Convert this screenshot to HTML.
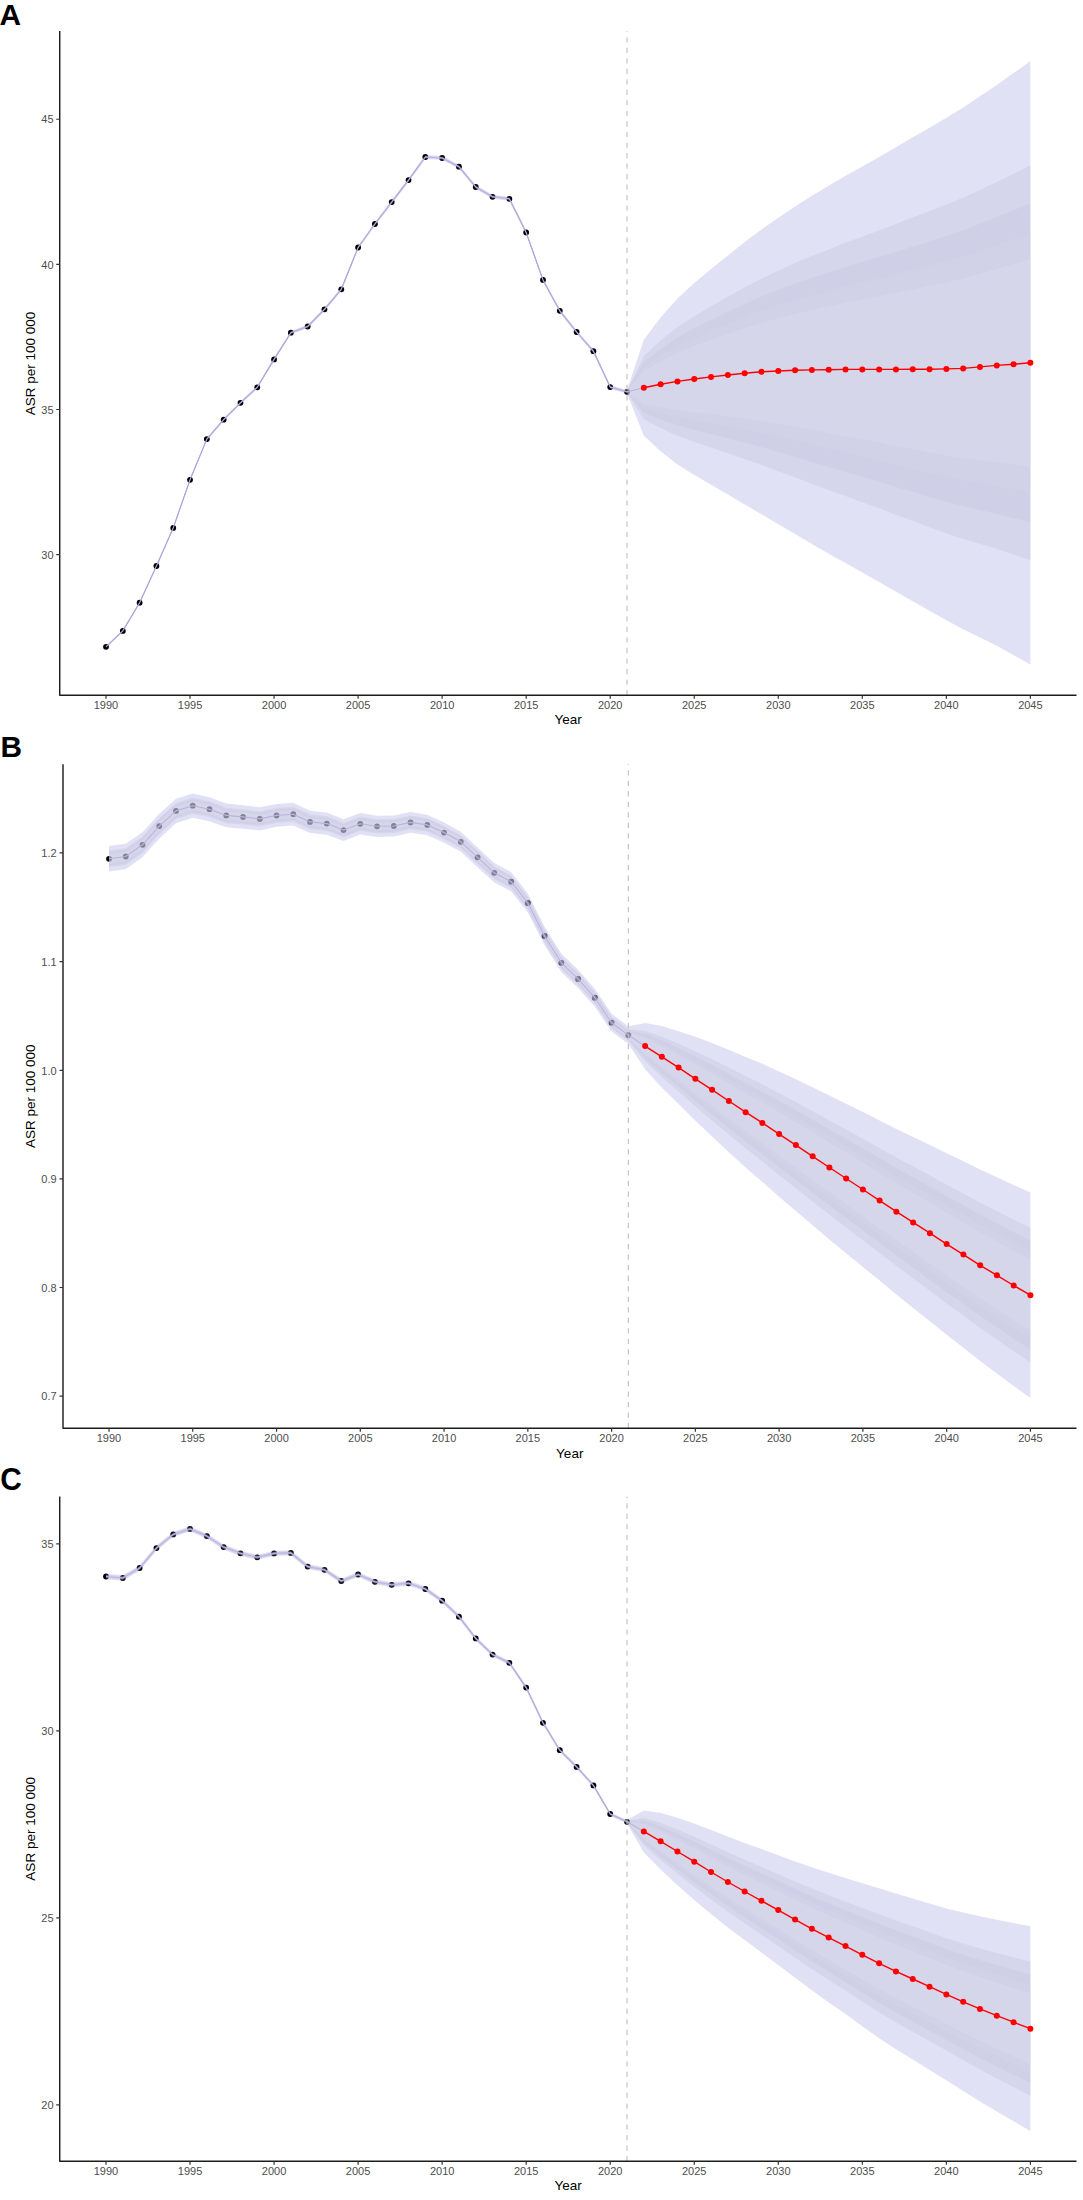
<!DOCTYPE html>
<html><head><meta charset="utf-8"><title>ASR forecast</title>
<style>
html,body{margin:0;padding:0;background:#fff}
svg{display:block}
text{font-family:"Liberation Sans",Arial,Helvetica,sans-serif}
.tk text{font-size:11px;fill:#4d4d4d}
.ti{font-size:13.5px;fill:#000}
.pl{font-size:29.8px;font-weight:700;fill:#000}
</style></head><body>
<svg width="1083" height="2200" viewBox="0 0 1083 2200">
<rect width="1083" height="2200" fill="#fff"/>
<g id="panel-A">
<g fill="#000"><circle cx="106" cy="646.8" r="2.9"/><circle cx="122.81" cy="630.9" r="2.9"/><circle cx="139.61" cy="602.7" r="2.9"/><circle cx="156.42" cy="566" r="2.9"/><circle cx="173.23" cy="527.9" r="2.9"/><circle cx="190.03" cy="479.8" r="2.9"/><circle cx="206.84" cy="439.1" r="2.9"/><circle cx="223.65" cy="419.7" r="2.9"/><circle cx="240.46" cy="402.8" r="2.9"/><circle cx="257.26" cy="387.3" r="2.9"/><circle cx="274.07" cy="359.4" r="2.9"/><circle cx="290.88" cy="332.7" r="2.9"/><circle cx="307.68" cy="326.5" r="2.9"/><circle cx="324.49" cy="309.3" r="2.9"/><circle cx="341.3" cy="289.3" r="2.9"/><circle cx="358.11" cy="247.5" r="2.9"/><circle cx="374.91" cy="224" r="2.9"/><circle cx="391.72" cy="202.1" r="2.9"/><circle cx="408.53" cy="180.1" r="2.9"/><circle cx="425.33" cy="157" r="2.9"/><circle cx="442.14" cy="158" r="2.9"/><circle cx="458.95" cy="166.7" r="2.9"/><circle cx="475.75" cy="187" r="2.9"/><circle cx="492.56" cy="196.8" r="2.9"/><circle cx="509.37" cy="198.8" r="2.9"/><circle cx="526.17" cy="232.5" r="2.9"/><circle cx="542.98" cy="279.9" r="2.9"/><circle cx="559.79" cy="310.8" r="2.9"/><circle cx="576.6" cy="332" r="2.9"/><circle cx="593.4" cy="351.2" r="2.9"/><circle cx="610.21" cy="387.1" r="2.9"/><circle cx="627.02" cy="391.8" r="2.9"/></g>
<path d="M106 646.8 L122.81 630.9 L139.61 602.7 L156.42 566 L173.23 527.9 L190.03 479.8 L206.84 439.1 L223.65 419.7 L240.46 402.8 L257.26 387.3 L274.07 359.4 L290.88 332.7 L307.68 326.5 L324.49 309.3 L341.3 289.3 L358.11 247.5 L374.91 224 L391.72 202.1 L408.53 180.1 L425.33 157 L442.14 158 L458.95 166.7 L475.75 187 L492.56 196.8 L509.37 198.8 L526.17 232.5 L542.98 279.9 L559.79 310.8 L576.6 332 L593.4 351.2 L610.21 387.1 L627.02 391.8 L643.82 387.7" fill="none" stroke="#ab96da" stroke-width="1.1" stroke-linejoin="round"/>
<path d="M106 645.8 L122.81 629.84 L139.61 601.58 L156.42 564.82 L173.23 526.66 L190.03 478.5 L206.84 437.74 L223.65 418.28 L240.46 401.32 L257.26 385.76 L274.07 357.8 L290.88 331.06 L307.68 324.81 L324.49 307.57 L341.3 287.52 L358.11 245.68 L374.91 222.13 L391.72 200.19 L408.53 178.14 L425.33 155 L442.14 156.02 L458.95 164.73 L475.75 185.05 L492.56 194.87 L509.37 196.88 L526.17 230.6 L542.98 278.02 L559.79 308.93 L576.6 330.15 L593.4 349.37 L610.21 385.28 L627.02 390 L643.82 339.75 L660.63 317.4 L677.44 298.4 L694.25 282.9 L711.05 269.1 L727.86 255.5 L744.67 242.06 L761.47 229.46 L778.28 217.84 L795.09 206.39 L811.89 195.81 L828.7 185.68 L845.51 175.76 L862.31 166.4 L879.12 156.9 L895.93 147.16 L912.74 137.27 L929.54 127.66 L946.35 117.66 L963.16 107.54 L979.96 96.29 L996.77 85 L1013.58 73.11 L1030.38 61.1 L1030.38 664.5 L1013.58 655.29 L996.77 645.8 L979.96 637.51 L963.16 629.26 L946.35 620.14 L929.54 610.74 L912.74 601.13 L895.93 591.64 L879.12 581.9 L862.31 572.4 L845.51 563.04 L828.7 553.72 L811.89 543.99 L795.09 534.01 L778.28 524.16 L761.47 514.14 L744.67 504.54 L727.86 494.5 L711.05 484.7 L694.25 475.1 L677.44 464.4 L660.63 451.2 L643.82 435.65 L627.02 393.6 L610.21 388.92 L593.4 353.03 L576.6 333.85 L559.79 312.67 L542.98 281.78 L526.17 234.4 L509.37 200.72 L492.56 198.73 L475.75 188.95 L458.95 168.67 L442.14 159.98 L425.33 159 L408.53 182.06 L391.72 204.01 L374.91 225.87 L358.11 249.32 L341.3 291.08 L324.49 311.03 L307.68 328.19 L290.88 334.34 L274.07 361 L257.26 388.84 L240.46 404.28 L223.65 421.12 L206.84 440.46 L190.03 481.1 L173.23 529.14 L156.42 567.18 L139.61 603.82 L122.81 631.96 L106 647.8Z" fill="rgba(105,105,205,0.2)"/>
<path d="M106 646.15 L122.81 630.21 L139.61 601.97 L156.42 565.23 L173.23 527.09 L190.03 478.95 L206.84 438.21 L223.65 418.77 L240.46 401.83 L257.26 386.29 L274.07 358.35 L290.88 331.62 L307.68 325.4 L324.49 308.17 L341.3 288.14 L358.11 246.31 L374.91 222.78 L391.72 200.85 L408.53 178.82 L425.33 155.69 L442.14 156.7 L458.95 165.41 L475.75 185.72 L492.56 195.54 L509.37 197.55 L526.17 231.26 L542.98 278.67 L559.79 309.58 L576.6 330.79 L593.4 350 L610.21 385.91 L627.02 390.62 L643.82 356.35 L660.63 340.56 L677.44 327.13 L694.25 316.16 L711.05 306.41 L727.86 296.86 L744.67 287.49 L761.47 278.73 L778.28 270.86 L795.09 263.09 L811.89 256.07 L828.7 249.38 L845.51 242.78 L862.31 236.67 L879.12 230.45 L895.93 224.09 L912.74 217.55 L929.54 211.26 L946.35 204.62 L963.16 197.83 L979.96 189.96 L996.77 182.05 L1013.58 173.87 L1030.38 165.53 L1030.38 560.07 L1013.58 554.53 L996.77 548.75 L979.96 543.84 L963.16 538.97 L946.35 533.18 L929.54 527.14 L912.74 520.85 L895.93 514.71 L879.12 508.35 L862.31 502.13 L845.51 496.02 L828.7 490.02 L811.89 483.73 L795.09 477.31 L778.28 471.14 L761.47 464.87 L744.67 459.11 L727.86 453.14 L711.05 447.39 L694.25 441.84 L677.44 435.67 L660.63 428.04 L643.82 419.05 L627.02 392.98 L610.21 388.29 L593.4 352.4 L576.6 333.21 L559.79 312.02 L542.98 281.13 L526.17 233.74 L509.37 200.05 L492.56 198.06 L475.75 188.28 L458.95 167.99 L442.14 159.3 L425.33 158.31 L408.53 181.38 L391.72 203.35 L374.91 225.22 L358.11 248.69 L341.3 290.46 L324.49 310.43 L307.68 327.6 L290.88 333.78 L274.07 360.45 L257.26 388.31 L240.46 403.77 L223.65 420.63 L206.84 439.99 L190.03 480.65 L173.23 528.71 L156.42 566.77 L139.61 603.43 L122.81 631.59 L106 647.45Z" fill="rgba(165,165,200,0.2)"/>
<path d="M106 646.27 L122.81 630.34 L139.61 602.11 L156.42 565.38 L173.23 527.24 L190.03 479.11 L206.84 438.38 L223.65 418.95 L240.46 402.02 L257.26 386.49 L274.07 358.55 L290.88 331.83 L307.68 325.61 L324.49 308.38 L341.3 288.36 L358.11 246.54 L374.91 223.01 L391.72 201.09 L408.53 179.07 L425.33 155.94 L442.14 156.95 L458.95 165.66 L475.75 185.97 L492.56 195.78 L509.37 197.79 L526.17 231.5 L542.98 278.9 L559.79 309.81 L576.6 331.02 L593.4 350.23 L610.21 386.14 L627.02 390.85 L643.82 362.34 L660.63 348.92 L677.44 337.51 L694.25 328.18 L711.05 319.9 L727.86 311.81 L744.67 303.9 L761.47 296.53 L778.28 290.01 L795.09 283.58 L811.89 277.84 L828.7 272.39 L845.51 267 L862.31 262.06 L879.12 257.03 L895.93 251.88 L912.74 246.55 L929.54 241.47 L946.35 236.04 L963.16 230.45 L979.96 223.8 L996.77 217.12 L1013.58 210.27 L1030.38 203.26 L1030.38 522.34 L1013.58 518.13 L996.77 513.68 L979.96 510 L963.16 506.35 L946.35 501.76 L929.54 496.93 L912.74 491.85 L895.93 486.92 L879.12 481.77 L862.31 476.74 L845.51 471.8 L828.7 467.01 L811.89 461.96 L795.09 456.82 L778.28 451.99 L761.47 447.07 L744.67 442.7 L727.86 438.19 L711.05 433.9 L694.25 429.82 L677.44 425.29 L660.63 419.68 L643.82 413.06 L627.02 392.75 L610.21 388.06 L593.4 352.17 L576.6 332.98 L559.79 311.79 L542.98 280.9 L526.17 233.5 L509.37 199.81 L492.56 197.82 L475.75 188.03 L458.95 167.74 L442.14 159.05 L425.33 158.06 L408.53 181.13 L391.72 203.11 L374.91 224.99 L358.11 248.46 L341.3 290.24 L324.49 310.22 L307.68 327.39 L290.88 333.57 L274.07 360.25 L257.26 388.11 L240.46 403.58 L223.65 420.45 L206.84 439.82 L190.03 480.49 L173.23 528.56 L156.42 566.62 L139.61 603.29 L122.81 631.46 L106 647.33Z" fill="rgba(183,183,221,0.2)"/>
<path d="M106 646.37 L122.81 630.44 L139.61 602.22 L156.42 565.49 L173.23 527.37 L190.03 479.24 L206.84 438.52 L223.65 419.09 L240.46 402.16 L257.26 386.64 L274.07 358.71 L290.88 331.99 L307.68 325.77 L324.49 308.56 L341.3 288.54 L358.11 246.72 L374.91 223.2 L391.72 201.28 L408.53 179.26 L425.33 156.14 L442.14 157.15 L458.95 165.86 L475.75 186.16 L492.56 195.97 L509.37 197.98 L526.17 231.68 L542.98 279.09 L559.79 310 L576.6 331.21 L593.4 350.41 L610.21 386.32 L627.02 391.03 L643.82 367.11 L660.63 355.57 L677.44 345.76 L694.25 337.73 L711.05 330.61 L727.86 323.69 L744.67 316.94 L761.47 310.68 L778.28 305.23 L795.09 299.86 L811.89 295.14 L828.7 290.68 L845.51 286.25 L862.31 282.23 L879.12 278.15 L895.93 273.97 L912.74 269.61 L929.54 265.48 L946.35 261.02 L963.16 256.38 L979.96 250.7 L996.77 244.99 L1013.58 239.2 L1030.38 233.25 L1030.38 492.35 L1013.58 489.2 L996.77 485.81 L979.96 483.1 L963.16 480.42 L946.35 476.78 L929.54 472.92 L912.74 468.79 L895.93 464.83 L879.12 460.65 L862.31 456.57 L845.51 452.55 L828.7 448.72 L811.89 444.66 L795.09 440.54 L778.28 436.77 L761.47 432.92 L744.67 429.66 L727.86 426.31 L711.05 423.19 L694.25 420.27 L677.44 417.04 L660.63 413.03 L643.82 408.29 L627.02 392.57 L610.21 387.88 L593.4 351.99 L576.6 332.79 L559.79 311.6 L542.98 280.71 L526.17 233.32 L509.37 199.62 L492.56 197.63 L475.75 187.84 L458.95 167.54 L442.14 158.85 L425.33 157.86 L408.53 180.94 L391.72 202.92 L374.91 224.8 L358.11 248.28 L341.3 290.06 L324.49 310.04 L307.68 327.23 L290.88 333.41 L274.07 360.09 L257.26 387.96 L240.46 403.44 L223.65 420.31 L206.84 439.68 L190.03 480.36 L173.23 528.43 L156.42 566.51 L139.61 603.18 L122.81 631.36 L106 647.23Z" fill="rgba(222,222,233,0.2)"/>
<path d="M106 646.46 L122.81 630.54 L139.61 602.31 L156.42 565.59 L173.23 527.47 L190.03 479.35 L206.84 438.63 L223.65 419.21 L240.46 402.29 L257.26 386.77 L274.07 358.85 L290.88 332.13 L307.68 325.92 L324.49 308.7 L341.3 288.69 L358.11 246.87 L374.91 223.36 L391.72 201.44 L408.53 179.43 L425.33 156.31 L442.14 157.32 L458.95 166.02 L475.75 186.33 L492.56 196.13 L509.37 198.14 L526.17 231.85 L542.98 279.25 L559.79 310.16 L576.6 331.36 L593.4 350.57 L610.21 386.47 L627.02 391.18 L643.82 371.2 L660.63 361.28 L677.44 352.84 L694.25 345.93 L711.05 339.8 L727.86 333.88 L744.67 328.14 L761.47 322.82 L778.28 318.29 L795.09 313.83 L811.89 309.99 L828.7 306.37 L845.51 302.76 L862.31 299.54 L879.12 296.27 L895.93 292.92 L912.74 289.38 L929.54 286.08 L946.35 282.44 L963.16 278.63 L979.96 273.77 L996.77 268.9 L1013.58 264.03 L1030.38 258.97 L1030.38 466.63 L1013.58 464.37 L996.77 461.9 L979.96 460.03 L963.16 458.17 L946.35 455.36 L929.54 452.32 L912.74 449.02 L895.93 445.88 L879.12 442.53 L862.31 439.26 L845.51 436.04 L828.7 433.03 L811.89 429.81 L795.09 426.57 L778.28 423.71 L761.47 420.78 L744.67 418.46 L727.86 416.12 L711.05 414 L694.25 412.07 L677.44 409.96 L660.63 407.32 L643.82 404.2 L627.02 392.42 L610.21 387.73 L593.4 351.83 L576.6 332.64 L559.79 311.44 L542.98 280.55 L526.17 233.15 L509.37 199.46 L492.56 197.47 L475.75 187.67 L458.95 167.38 L442.14 158.68 L425.33 157.69 L408.53 180.77 L391.72 202.76 L374.91 224.64 L358.11 248.13 L341.3 289.91 L324.49 309.9 L307.68 327.08 L290.88 333.27 L274.07 359.95 L257.26 387.83 L240.46 403.31 L223.65 420.19 L206.84 439.57 L190.03 480.25 L173.23 528.33 L156.42 566.41 L139.61 603.09 L122.81 631.26 L106 647.14Z" fill="rgba(235,235,248,0.2)"/>
<line x1="627.02" x2="627.02" y1="695.25" y2="31" stroke="#bebebe" stroke-width="1.1" stroke-dasharray="5.265 5.265" stroke-dashoffset="0"/>
<path d="M643.82 387.7 L660.63 384.3 L677.44 381.4 L694.25 379 L711.05 376.9 L727.86 375 L744.67 373.3 L761.47 371.8 L778.28 371 L795.09 370.2 L811.89 369.9 L828.7 369.7 L845.51 369.4 L862.31 369.4 L879.12 369.4 L895.93 369.4 L912.74 369.2 L929.54 369.2 L946.35 368.9 L963.16 368.4 L979.96 366.9 L996.77 365.4 L1013.58 364.2 L1030.38 362.8" fill="none" stroke="#f00" stroke-width="1.4" stroke-linejoin="round"/>
<g fill="#f00"><circle cx="643.82" cy="387.7" r="3"/><circle cx="660.63" cy="384.3" r="3"/><circle cx="677.44" cy="381.4" r="3"/><circle cx="694.25" cy="379" r="3"/><circle cx="711.05" cy="376.9" r="3"/><circle cx="727.86" cy="375" r="3"/><circle cx="744.67" cy="373.3" r="3"/><circle cx="761.47" cy="371.8" r="3"/><circle cx="778.28" cy="371" r="3"/><circle cx="795.09" cy="370.2" r="3"/><circle cx="811.89" cy="369.9" r="3"/><circle cx="828.7" cy="369.7" r="3"/><circle cx="845.51" cy="369.4" r="3"/><circle cx="862.31" cy="369.4" r="3"/><circle cx="879.12" cy="369.4" r="3"/><circle cx="895.93" cy="369.4" r="3"/><circle cx="912.74" cy="369.2" r="3"/><circle cx="929.54" cy="369.2" r="3"/><circle cx="946.35" cy="368.9" r="3"/><circle cx="963.16" cy="368.4" r="3"/><circle cx="979.96" cy="366.9" r="3"/><circle cx="996.77" cy="365.4" r="3"/><circle cx="1013.58" cy="364.2" r="3"/><circle cx="1030.38" cy="362.8" r="3"/></g>
<path d="M59.72 31 V695.25 H1076.5" fill="none" stroke="#1c1c1c" stroke-width="1.42" stroke-linejoin="round" stroke-linecap="butt"/>
<path d="M59.72 119.25 h-3.5 M59.72 264.35 h-3.5 M59.72 409.5 h-3.5 M59.72 554.65 h-3.5 M106 695.25 v3.4 M190.03 695.25 v3.4 M274.07 695.25 v3.4 M358.11 695.25 v3.4 M442.14 695.25 v3.4 M526.17 695.25 v3.4 M610.21 695.25 v3.4 M694.25 695.25 v3.4 M778.28 695.25 v3.4 M862.31 695.25 v3.4 M946.35 695.25 v3.4 M1030.38 695.25 v3.4" stroke="#333" stroke-width="1.2" fill="none"/>
<g class="tk" text-anchor="end"><text x="53.52" y="123.45">45</text><text x="53.52" y="268.55">40</text><text x="53.52" y="413.7">35</text><text x="53.52" y="558.85">30</text></g>
<g class="tk" text-anchor="middle"><text x="106" y="709.05">1990</text><text x="190.03" y="709.05">1995</text><text x="274.07" y="709.05">2000</text><text x="358.11" y="709.05">2005</text><text x="442.14" y="709.05">2010</text><text x="526.17" y="709.05">2015</text><text x="610.21" y="709.05">2020</text><text x="694.25" y="709.05">2025</text><text x="778.28" y="709.05">2030</text><text x="862.31" y="709.05">2035</text><text x="946.35" y="709.05">2040</text><text x="1030.38" y="709.05">2045</text></g>
<text class="ti" text-anchor="middle" x="568.11" y="724.2">Year</text>
<text class="ti" text-anchor="middle" transform="translate(35.1 363.5) rotate(-90)">ASR per 100 000</text>
<text class="pl" transform="translate(-0.4 24.7) scale(1 1)">A</text>
</g>
<g id="panel-B">
<g fill="#000"><circle cx="109" cy="858.8" r="2.9"/><circle cx="125.75" cy="856.5" r="2.9"/><circle cx="142.51" cy="844.8" r="2.9"/><circle cx="159.26" cy="826.1" r="2.9"/><circle cx="176.01" cy="810.9" r="2.9"/><circle cx="192.76" cy="805.7" r="2.9"/><circle cx="209.52" cy="809.2" r="2.9"/><circle cx="226.27" cy="815.4" r="2.9"/><circle cx="243.02" cy="816.9" r="2.9"/><circle cx="259.78" cy="818.9" r="2.9"/><circle cx="276.53" cy="815.4" r="2.9"/><circle cx="293.28" cy="814.2" r="2.9"/><circle cx="310.04" cy="821.9" r="2.9"/><circle cx="326.79" cy="823.6" r="2.9"/><circle cx="343.54" cy="830.1" r="2.9"/><circle cx="360.3" cy="823.8" r="2.9"/><circle cx="377.05" cy="826.3" r="2.9"/><circle cx="393.8" cy="826" r="2.9"/><circle cx="410.55" cy="822.4" r="2.9"/><circle cx="427.31" cy="824.9" r="2.9"/><circle cx="444.06" cy="832.6" r="2.9"/><circle cx="460.81" cy="841.8" r="2.9"/><circle cx="477.57" cy="857.3" r="2.9"/><circle cx="494.32" cy="872.8" r="2.9"/><circle cx="511.07" cy="881.7" r="2.9"/><circle cx="527.83" cy="903" r="2.9"/><circle cx="544.58" cy="936" r="2.9"/><circle cx="561.33" cy="962.8" r="2.9"/><circle cx="578.08" cy="978.9" r="2.9"/><circle cx="594.84" cy="997.7" r="2.9"/><circle cx="611.59" cy="1022.7" r="2.9"/><circle cx="628.34" cy="1035.1" r="2.9"/></g>
<path d="M109 858.8 L125.75 856.5 L142.51 844.8 L159.26 826.1 L176.01 810.9 L192.76 805.7 L209.52 809.2 L226.27 815.4 L243.02 816.9 L259.78 818.9 L276.53 815.4 L293.28 814.2 L310.04 821.9 L326.79 823.6 L343.54 830.1 L360.3 823.8 L377.05 826.3 L393.8 826 L410.55 822.4 L427.31 824.9 L444.06 832.6 L460.81 841.8 L477.57 857.3 L494.32 872.8 L511.07 881.7 L527.83 903 L544.58 936 L561.33 962.8 L578.08 978.9 L594.84 997.7 L611.59 1022.7 L628.34 1035.1 L645.1 1046.1" fill="none" stroke="#ab96da" stroke-width="1.1" stroke-linejoin="round"/>
<path d="M109 846 L125.75 843.83 L142.51 832.27 L159.26 813.7 L176.01 798.63 L192.76 793.57 L209.52 797.2 L226.27 803.53 L243.02 805.17 L259.78 807.3 L276.53 803.93 L293.28 802.87 L310.04 810.7 L326.79 812.53 L343.54 819.17 L360.3 813 L377.05 815.63 L393.8 815.47 L410.55 812 L427.31 814.63 L444.06 822.47 L460.81 831.8 L477.57 847.43 L494.32 863.07 L511.07 872.1 L527.83 893.51 L544.58 926.63 L561.33 953.54 L578.08 969.76 L594.84 988.67 L611.59 1013.79 L628.34 1026.3 L645.1 1022.9 L661.85 1025.97 L678.6 1031.2 L695.36 1036.86 L712.11 1042.99 L728.86 1049.8 L745.61 1056.93 L762.37 1063.85 L779.12 1071.5 L795.87 1079.21 L812.63 1087.28 L829.38 1095.5 L846.13 1103.73 L862.88 1112.06 L879.64 1120.6 L896.39 1128.9 L913.14 1136.88 L929.9 1145.03 L946.65 1153.35 L963.4 1161.33 L980.16 1169.57 L996.91 1177.16 L1013.66 1185.01 L1030.41 1192.4 L1030.41 1398 L1013.66 1385.99 L996.91 1373.44 L980.16 1361.03 L963.4 1347.87 L946.65 1334.85 L929.9 1321.37 L913.14 1307.92 L896.39 1294.5 L879.64 1280.6 L862.88 1266.94 L846.13 1253.27 L829.38 1239.5 L812.63 1225.32 L795.87 1210.99 L779.12 1196.7 L762.37 1181.95 L745.61 1167.47 L728.86 1152.2 L712.11 1136.61 L695.36 1120.74 L678.6 1104 L661.85 1087.63 L645.1 1069.3 L628.34 1043.9 L611.59 1031.61 L594.84 1006.73 L578.08 988.04 L561.33 972.06 L544.58 945.37 L527.83 912.49 L511.07 891.3 L494.32 882.53 L477.57 867.17 L460.81 851.8 L444.06 842.73 L427.31 835.17 L410.55 832.8 L393.8 836.53 L377.05 836.97 L360.3 834.6 L343.54 841.03 L326.79 834.67 L310.04 833.1 L293.28 825.53 L276.53 826.87 L259.78 830.5 L243.02 828.63 L226.27 827.27 L209.52 821.2 L192.76 817.83 L176.01 823.17 L159.26 838.5 L142.51 857.33 L125.75 869.17 L109 871.6Z" fill="rgba(105,105,205,0.2)"/>
<path d="M109 850.43 L125.75 848.22 L142.51 836.6 L159.26 817.99 L176.01 802.88 L192.76 797.77 L209.52 801.35 L226.27 807.64 L243.02 809.23 L259.78 811.32 L276.53 807.9 L293.28 806.79 L310.04 814.58 L326.79 816.36 L343.54 822.95 L360.3 816.74 L377.05 819.33 L393.8 819.11 L410.55 815.6 L427.31 818.19 L444.06 825.97 L460.81 835.26 L477.57 850.85 L494.32 866.44 L511.07 875.42 L527.83 896.8 L544.58 929.87 L561.33 956.75 L578.08 972.92 L594.84 991.8 L611.59 1016.87 L628.34 1029.35 L645.1 1030.93 L661.85 1036.64 L678.6 1043.8 L695.36 1051.38 L712.11 1059.2 L728.86 1067.52 L745.61 1076.06 L762.37 1084.29 L779.12 1093.17 L795.87 1102.02 L812.63 1111.17 L829.38 1120.42 L846.13 1129.61 L862.88 1138.87 L879.64 1148.29 L896.39 1157.56 L913.14 1166.48 L929.9 1175.55 L946.65 1184.76 L963.4 1193.61 L980.16 1202.7 L996.91 1211.13 L1013.66 1219.79 L1030.41 1227.98 L1030.41 1362.42 L1013.66 1351.21 L996.91 1339.47 L980.16 1327.9 L963.4 1315.59 L946.65 1303.44 L929.9 1290.85 L913.14 1278.32 L896.39 1265.84 L879.64 1252.91 L862.88 1240.13 L846.13 1227.39 L829.38 1214.58 L812.63 1201.43 L795.87 1188.18 L779.12 1175.03 L762.37 1161.51 L745.61 1148.34 L728.86 1134.48 L712.11 1120.4 L695.36 1106.22 L678.6 1091.4 L661.85 1076.96 L645.1 1061.27 L628.34 1040.85 L611.59 1028.53 L594.84 1003.6 L578.08 984.88 L561.33 968.85 L544.58 942.13 L527.83 909.2 L511.07 887.98 L494.32 879.16 L477.57 863.75 L460.81 848.34 L444.06 839.23 L427.31 831.61 L410.55 829.2 L393.8 832.89 L377.05 833.27 L360.3 830.86 L343.54 837.25 L326.79 830.84 L310.04 829.22 L293.28 821.61 L276.53 822.9 L259.78 826.48 L243.02 824.57 L226.27 823.16 L209.52 817.05 L192.76 813.63 L176.01 818.92 L159.26 834.21 L142.51 853 L125.75 864.78 L109 867.17Z" fill="rgba(165,165,200,0.2)"/>
<path d="M109 852.03 L125.75 849.8 L142.51 838.17 L159.26 819.54 L176.01 804.41 L192.76 799.28 L209.52 802.85 L226.27 809.12 L243.02 810.7 L259.78 812.77 L276.53 809.34 L293.28 808.21 L310.04 815.98 L326.79 817.75 L343.54 824.32 L360.3 818.09 L377.05 820.66 L393.8 820.43 L410.55 816.9 L427.31 819.47 L444.06 827.24 L460.81 836.51 L477.57 852.08 L494.32 867.65 L511.07 876.62 L527.83 897.98 L544.58 931.04 L561.33 957.9 L578.08 974.07 L594.84 992.93 L611.59 1017.99 L628.34 1030.45 L645.1 1033.83 L661.85 1040.5 L678.6 1048.35 L695.36 1056.62 L712.11 1065.05 L728.86 1073.93 L745.61 1082.98 L762.37 1091.67 L779.12 1101 L795.87 1110.26 L812.63 1119.8 L829.38 1129.43 L846.13 1138.96 L862.88 1148.55 L879.64 1158.3 L896.39 1167.91 L913.14 1177.17 L929.9 1186.57 L946.65 1196.11 L963.4 1205.28 L980.16 1214.68 L996.91 1223.41 L1013.66 1232.36 L1030.41 1240.84 L1030.41 1349.56 L1013.66 1338.64 L996.91 1327.19 L980.16 1315.92 L963.4 1303.92 L946.65 1292.09 L929.9 1279.83 L913.14 1267.63 L896.39 1255.49 L879.64 1242.9 L862.88 1230.45 L846.13 1218.04 L829.38 1205.57 L812.63 1192.8 L795.87 1179.94 L779.12 1167.2 L762.37 1154.13 L745.61 1141.42 L728.86 1128.07 L712.11 1114.55 L695.36 1100.98 L678.6 1086.85 L661.85 1073.1 L645.1 1058.37 L628.34 1039.75 L611.59 1027.41 L594.84 1002.47 L578.08 983.73 L561.33 967.7 L544.58 940.96 L527.83 908.02 L511.07 886.78 L494.32 877.95 L477.57 862.52 L460.81 847.09 L444.06 837.96 L427.31 830.33 L410.55 827.9 L393.8 831.57 L377.05 831.94 L360.3 829.51 L343.54 835.88 L326.79 829.45 L310.04 827.82 L293.28 820.19 L276.53 821.46 L259.78 825.03 L243.02 823.1 L226.27 821.68 L209.52 815.55 L192.76 812.12 L176.01 817.39 L159.26 832.66 L142.51 851.43 L125.75 863.2 L109 865.57Z" fill="rgba(183,183,221,0.2)"/>
<path d="M109 853.3 L125.75 851.06 L142.51 839.42 L159.26 820.78 L176.01 805.63 L192.76 800.49 L209.52 804.05 L226.27 810.3 L243.02 811.86 L259.78 813.92 L276.53 810.48 L293.28 809.33 L310.04 817.09 L326.79 818.85 L343.54 825.41 L360.3 819.16 L377.05 821.72 L393.8 821.48 L410.55 817.93 L427.31 820.49 L444.06 828.25 L460.81 837.51 L477.57 853.06 L494.32 868.62 L511.07 877.58 L527.83 898.93 L544.58 931.98 L561.33 958.82 L578.08 974.97 L594.84 993.82 L611.59 1018.87 L628.34 1031.32 L645.1 1036.14 L661.85 1043.56 L678.6 1051.97 L695.36 1060.79 L712.11 1069.7 L728.86 1079.01 L745.61 1088.47 L762.37 1097.54 L779.12 1107.22 L795.87 1116.81 L812.63 1126.66 L829.38 1136.58 L846.13 1146.39 L862.88 1156.25 L879.64 1166.25 L896.39 1176.14 L913.14 1185.68 L929.9 1195.34 L946.65 1205.13 L963.4 1214.55 L980.16 1224.19 L996.91 1233.16 L1013.66 1242.35 L1030.41 1251.06 L1030.41 1339.34 L1013.66 1328.65 L996.91 1317.44 L980.16 1306.41 L963.4 1294.65 L946.65 1283.07 L929.9 1271.06 L913.14 1259.12 L896.39 1247.26 L879.64 1234.95 L862.88 1222.75 L846.13 1210.61 L829.38 1198.42 L812.63 1185.94 L795.87 1173.39 L779.12 1160.98 L762.37 1148.26 L745.61 1135.93 L728.86 1122.99 L712.11 1109.9 L695.36 1096.81 L678.6 1083.23 L661.85 1070.04 L645.1 1056.06 L628.34 1038.88 L611.59 1026.53 L594.84 1001.58 L578.08 982.83 L561.33 966.78 L544.58 940.02 L527.83 907.07 L511.07 885.82 L494.32 876.98 L477.57 861.54 L460.81 846.09 L444.06 836.95 L427.31 829.31 L410.55 826.87 L393.8 830.52 L377.05 830.88 L360.3 828.44 L343.54 834.79 L326.79 828.35 L310.04 826.71 L293.28 819.07 L276.53 820.32 L259.78 823.88 L243.02 821.94 L226.27 820.5 L209.52 814.35 L192.76 810.91 L176.01 816.17 L159.26 831.42 L142.51 850.18 L125.75 861.94 L109 864.3Z" fill="rgba(222,222,233,0.2)"/>
<path d="M109 854.4 L125.75 852.14 L142.51 840.49 L159.26 821.83 L176.01 806.68 L192.76 801.52 L209.52 805.07 L226.27 811.32 L243.02 812.86 L259.78 814.91 L276.53 811.45 L293.28 810.3 L310.04 818.05 L326.79 819.79 L343.54 826.34 L360.3 820.08 L377.05 822.63 L393.8 822.38 L410.55 818.82 L427.31 821.37 L444.06 829.11 L460.81 838.36 L477.57 853.9 L494.32 869.45 L511.07 878.4 L527.83 899.74 L544.58 932.77 L561.33 959.61 L578.08 975.75 L594.84 994.59 L611.59 1019.63 L628.34 1032.07 L645.1 1038.12 L661.85 1046.19 L678.6 1055.07 L695.36 1064.37 L712.11 1073.69 L728.86 1083.38 L745.61 1093.18 L762.37 1102.58 L779.12 1112.56 L795.87 1122.42 L812.63 1132.55 L829.38 1142.72 L846.13 1152.77 L862.88 1162.85 L879.64 1173.07 L896.39 1183.2 L913.14 1192.97 L929.9 1202.86 L946.65 1212.87 L963.4 1222.5 L980.16 1232.36 L996.91 1241.53 L1013.66 1250.92 L1030.41 1259.82 L1030.41 1330.58 L1013.66 1320.08 L996.91 1309.07 L980.16 1298.24 L963.4 1286.7 L946.65 1275.33 L929.9 1263.54 L913.14 1251.83 L896.39 1240.2 L879.64 1228.13 L862.88 1216.15 L846.13 1204.23 L829.38 1192.28 L812.63 1180.05 L795.87 1167.78 L779.12 1155.64 L762.37 1143.22 L745.61 1131.22 L728.86 1118.62 L712.11 1105.91 L695.36 1093.23 L678.6 1080.13 L661.85 1067.41 L645.1 1054.08 L628.34 1038.13 L611.59 1025.77 L594.84 1000.81 L578.08 982.05 L561.33 965.99 L544.58 939.23 L527.83 906.26 L511.07 885 L494.32 876.15 L477.57 860.7 L460.81 845.24 L444.06 836.09 L427.31 828.43 L410.55 825.98 L393.8 829.62 L377.05 829.97 L360.3 827.52 L343.54 833.86 L326.79 827.41 L310.04 825.75 L293.28 818.1 L276.53 819.35 L259.78 822.89 L243.02 820.94 L226.27 819.48 L209.52 813.33 L192.76 809.88 L176.01 815.12 L159.26 830.37 L142.51 849.11 L125.75 860.86 L109 863.2Z" fill="rgba(235,235,248,0.2)"/>
<line x1="628.34" x2="628.34" y1="1428.3" y2="764.2" stroke="#bebebe" stroke-width="1.1" stroke-dasharray="5.265 5.265" stroke-dashoffset="0"/>
<path d="M645.1 1046.1 L661.85 1056.8 L678.6 1067.6 L695.36 1078.8 L712.11 1089.8 L728.86 1101 L745.61 1112.2 L762.37 1122.9 L779.12 1134.1 L795.87 1145.1 L812.63 1156.3 L829.38 1167.5 L846.13 1178.5 L862.88 1189.5 L879.64 1200.6 L896.39 1211.7 L913.14 1222.4 L929.9 1233.2 L946.65 1244.1 L963.4 1254.6 L980.16 1265.3 L996.91 1275.3 L1013.66 1285.5 L1030.41 1295.2" fill="none" stroke="#f00" stroke-width="1.4" stroke-linejoin="round"/>
<g fill="#f00"><circle cx="645.1" cy="1046.1" r="3"/><circle cx="661.85" cy="1056.8" r="3"/><circle cx="678.6" cy="1067.6" r="3"/><circle cx="695.36" cy="1078.8" r="3"/><circle cx="712.11" cy="1089.8" r="3"/><circle cx="728.86" cy="1101" r="3"/><circle cx="745.61" cy="1112.2" r="3"/><circle cx="762.37" cy="1122.9" r="3"/><circle cx="779.12" cy="1134.1" r="3"/><circle cx="795.87" cy="1145.1" r="3"/><circle cx="812.63" cy="1156.3" r="3"/><circle cx="829.38" cy="1167.5" r="3"/><circle cx="846.13" cy="1178.5" r="3"/><circle cx="862.88" cy="1189.5" r="3"/><circle cx="879.64" cy="1200.6" r="3"/><circle cx="896.39" cy="1211.7" r="3"/><circle cx="913.14" cy="1222.4" r="3"/><circle cx="929.9" cy="1233.2" r="3"/><circle cx="946.65" cy="1244.1" r="3"/><circle cx="963.4" cy="1254.6" r="3"/><circle cx="980.16" cy="1265.3" r="3"/><circle cx="996.91" cy="1275.3" r="3"/><circle cx="1013.66" cy="1285.5" r="3"/><circle cx="1030.41" cy="1295.2" r="3"/></g>
<path d="M63 764.2 V1428.3 H1076.5" fill="none" stroke="#1c1c1c" stroke-width="1.42" stroke-linejoin="round" stroke-linecap="butt"/>
<path d="M63 852.9 h-3.5 M63 961.6 h-3.5 M63 1070.3 h-3.5 M63 1178.9 h-3.5 M63 1287.5 h-3.5 M63 1396.2 h-3.5 M109 1428.3 v3.4 M192.76 1428.3 v3.4 M276.53 1428.3 v3.4 M360.3 1428.3 v3.4 M444.06 1428.3 v3.4 M527.83 1428.3 v3.4 M611.59 1428.3 v3.4 M695.36 1428.3 v3.4 M779.12 1428.3 v3.4 M862.88 1428.3 v3.4 M946.65 1428.3 v3.4 M1030.41 1428.3 v3.4" stroke="#333" stroke-width="1.2" fill="none"/>
<g class="tk" text-anchor="end"><text x="56.6" y="857.1">1.2</text><text x="56.6" y="965.8">1.1</text><text x="56.6" y="1074.5">1.0</text><text x="56.6" y="1183.1">0.9</text><text x="56.6" y="1291.7">0.8</text><text x="56.6" y="1400.4">0.7</text></g>
<g class="tk" text-anchor="middle"><text x="109" y="1442.1">1990</text><text x="192.76" y="1442.1">1995</text><text x="276.53" y="1442.1">2000</text><text x="360.3" y="1442.1">2005</text><text x="444.06" y="1442.1">2010</text><text x="527.83" y="1442.1">2015</text><text x="611.59" y="1442.1">2020</text><text x="695.36" y="1442.1">2025</text><text x="779.12" y="1442.1">2030</text><text x="862.88" y="1442.1">2035</text><text x="946.65" y="1442.1">2040</text><text x="1030.41" y="1442.1">2045</text></g>
<text class="ti" text-anchor="middle" x="569.75" y="1457.7">Year</text>
<text class="ti" text-anchor="middle" transform="translate(35.1 1096.25) rotate(-90)">ASR per 100 000</text>
<text class="pl" transform="translate(0.6 757.3) scale(1 1.02)">B</text>
</g>
<g id="panel-C">
<g fill="#000"><circle cx="106" cy="1576.5" r="2.9"/><circle cx="122.81" cy="1578" r="2.9"/><circle cx="139.61" cy="1568" r="2.9"/><circle cx="156.42" cy="1548.1" r="2.9"/><circle cx="173.23" cy="1534.4" r="2.9"/><circle cx="190.03" cy="1528.9" r="2.9"/><circle cx="206.84" cy="1536.1" r="2.9"/><circle cx="223.65" cy="1547.1" r="2.9"/><circle cx="240.46" cy="1553.3" r="2.9"/><circle cx="257.26" cy="1557.3" r="2.9"/><circle cx="274.07" cy="1553.4" r="2.9"/><circle cx="290.88" cy="1552.9" r="2.9"/><circle cx="307.68" cy="1566.6" r="2.9"/><circle cx="324.49" cy="1569.8" r="2.9"/><circle cx="341.3" cy="1581" r="2.9"/><circle cx="358.11" cy="1574.5" r="2.9"/><circle cx="374.91" cy="1581.8" r="2.9"/><circle cx="391.72" cy="1584.8" r="2.9"/><circle cx="408.53" cy="1583.3" r="2.9"/><circle cx="425.33" cy="1589" r="2.9"/><circle cx="442.14" cy="1600.7" r="2.9"/><circle cx="458.95" cy="1616.7" r="2.9"/><circle cx="475.75" cy="1638.4" r="2.9"/><circle cx="492.56" cy="1654.6" r="2.9"/><circle cx="509.37" cy="1662.8" r="2.9"/><circle cx="526.17" cy="1687.6" r="2.9"/><circle cx="542.98" cy="1722.8" r="2.9"/><circle cx="559.79" cy="1750.2" r="2.9"/><circle cx="576.6" cy="1766.9" r="2.9"/><circle cx="593.4" cy="1785.4" r="2.9"/><circle cx="610.21" cy="1814" r="2.9"/><circle cx="627.02" cy="1821.8" r="2.9"/></g>
<path d="M106 1576.5 L122.81 1578 L139.61 1568 L156.42 1548.1 L173.23 1534.4 L190.03 1528.9 L206.84 1536.1 L223.65 1547.1 L240.46 1553.3 L257.26 1557.3 L274.07 1553.4 L290.88 1552.9 L307.68 1566.6 L324.49 1569.8 L341.3 1581 L358.11 1574.5 L374.91 1581.8 L391.72 1584.8 L408.53 1583.3 L425.33 1589 L442.14 1600.7 L458.95 1616.7 L475.75 1638.4 L492.56 1654.6 L509.37 1662.8 L526.17 1687.6 L542.98 1722.8 L559.79 1750.2 L576.6 1766.9 L593.4 1785.4 L610.21 1814 L627.02 1821.8 L643.82 1831.4" fill="none" stroke="#ab96da" stroke-width="1.1" stroke-linejoin="round"/>
<path d="M106 1573.8 L122.81 1575.32 L139.61 1565.33 L156.42 1545.44 L173.23 1531.76 L190.03 1526.28 L206.84 1533.49 L223.65 1544.5 L240.46 1550.72 L257.26 1554.73 L274.07 1550.85 L290.88 1550.37 L307.68 1564.08 L324.49 1567.29 L341.3 1578.51 L358.11 1572.03 L374.91 1579.34 L391.72 1582.36 L408.53 1580.87 L425.33 1586.59 L442.14 1598.3 L458.95 1614.36 L475.75 1636.13 L492.56 1652.39 L509.37 1660.65 L526.17 1685.52 L542.98 1720.78 L559.79 1748.25 L576.6 1765.01 L593.4 1783.57 L610.21 1812.24 L627.02 1820.1 L643.82 1810.4 L660.63 1813 L677.44 1817.8 L694.25 1823.5 L711.05 1829.9 L727.86 1836.49 L744.67 1842.9 L761.47 1849 L778.28 1855.3 L795.09 1861.38 L811.89 1867.3 L828.7 1872.8 L845.51 1878.1 L862.31 1883.26 L879.12 1888.3 L895.93 1893.59 L912.74 1898.46 L929.54 1903.5 L946.35 1908.6 L963.16 1912.6 L979.96 1916.35 L996.77 1919.83 L1013.58 1923.05 L1030.38 1926.3 L1030.38 2131.1 L1013.58 2121.35 L996.77 2111.57 L979.96 2101.45 L963.16 2091 L946.35 2080.2 L929.54 2069.9 L912.74 2059.54 L895.93 2049.21 L879.12 2038.3 L862.31 2026.34 L845.51 2014.1 L828.7 2002.4 L811.89 1990.3 L795.09 1977.82 L778.28 1964.9 L761.47 1952.6 L744.67 1940.1 L727.86 1927.51 L711.05 1914.1 L694.25 1899.9 L677.44 1885.2 L660.63 1869.6 L643.82 1852.4 L627.02 1823.5 L610.21 1815.76 L593.4 1787.23 L576.6 1768.79 L559.79 1752.15 L542.98 1724.82 L526.17 1689.68 L509.37 1664.95 L492.56 1656.81 L475.75 1640.67 L458.95 1619.04 L442.14 1603.1 L425.33 1591.41 L408.53 1585.73 L391.72 1587.24 L374.91 1584.26 L358.11 1576.97 L341.3 1583.49 L324.49 1572.31 L307.68 1569.12 L290.88 1555.44 L274.07 1555.95 L257.26 1559.87 L240.46 1555.88 L223.65 1549.69 L206.84 1538.71 L190.03 1531.53 L173.23 1537.04 L156.42 1550.75 L139.61 1570.67 L122.81 1580.68 L106 1579.2Z" fill="rgba(105,105,205,0.2)"/>
<path d="M106 1574.73 L122.81 1576.24 L139.61 1566.25 L156.42 1546.36 L173.23 1532.67 L190.03 1527.18 L206.84 1534.39 L223.65 1545.4 L240.46 1551.61 L257.26 1555.62 L274.07 1551.73 L290.88 1551.24 L307.68 1564.95 L324.49 1568.16 L341.3 1579.37 L358.11 1572.88 L374.91 1580.19 L391.72 1583.2 L408.53 1581.71 L425.33 1587.42 L442.14 1599.13 L458.95 1615.17 L475.75 1636.91 L492.56 1653.16 L509.37 1661.4 L526.17 1686.24 L542.98 1721.48 L559.79 1748.92 L576.6 1765.66 L593.4 1784.21 L610.21 1812.85 L627.02 1820.69 L643.82 1817.67 L660.63 1822.79 L677.44 1829.46 L694.25 1836.72 L711.05 1844.47 L727.86 1852.25 L744.67 1859.72 L761.47 1866.93 L778.28 1874.27 L795.09 1881.53 L811.89 1888.59 L828.7 1895.23 L845.51 1901.64 L862.31 1908.02 L879.12 1914.26 L895.93 1920.53 L912.74 1926.34 L929.54 1932.3 L946.35 1938.3 L963.16 1943.48 L979.96 1948.38 L996.77 1953.01 L1013.58 1957.37 L1030.38 1961.74 L1030.38 2095.66 L1013.58 2087.03 L996.77 2078.39 L979.96 2069.42 L963.16 2060.12 L946.35 2050.5 L929.54 2041.1 L912.74 2031.66 L895.93 2022.27 L879.12 2012.34 L862.31 2001.58 L845.51 1990.56 L828.7 1979.97 L811.89 1969.01 L795.09 1957.67 L778.28 1945.93 L761.47 1934.67 L744.67 1923.28 L727.86 1911.75 L711.05 1899.53 L694.25 1886.68 L677.44 1873.54 L660.63 1859.81 L643.82 1845.13 L627.02 1822.91 L610.21 1815.15 L593.4 1786.59 L576.6 1768.14 L559.79 1751.48 L542.98 1724.12 L526.17 1688.96 L509.37 1664.2 L492.56 1656.04 L475.75 1639.89 L458.95 1618.23 L442.14 1602.27 L425.33 1590.58 L408.53 1584.89 L391.72 1586.4 L374.91 1583.41 L358.11 1576.12 L341.3 1582.63 L324.49 1571.44 L307.68 1568.25 L290.88 1554.56 L274.07 1555.07 L257.26 1558.98 L240.46 1554.99 L223.65 1548.8 L206.84 1537.81 L190.03 1530.62 L173.23 1536.13 L156.42 1549.84 L139.61 1569.75 L122.81 1579.76 L106 1578.27Z" fill="rgba(165,165,200,0.2)"/>
<path d="M106 1575.07 L122.81 1576.58 L139.61 1566.59 L156.42 1546.7 L173.23 1533 L190.03 1527.51 L206.84 1534.72 L223.65 1545.73 L240.46 1551.94 L257.26 1555.94 L274.07 1552.05 L290.88 1551.56 L307.68 1565.27 L324.49 1568.48 L341.3 1579.68 L358.11 1573.19 L374.91 1580.5 L391.72 1583.51 L408.53 1582.02 L425.33 1587.72 L442.14 1599.43 L458.95 1615.46 L475.75 1637.2 L492.56 1653.43 L509.37 1661.67 L526.17 1686.5 L542.98 1721.73 L559.79 1749.17 L576.6 1765.9 L593.4 1784.43 L610.21 1813.07 L627.02 1820.9 L643.82 1820.3 L660.63 1826.33 L677.44 1833.68 L694.25 1841.5 L711.05 1849.74 L727.86 1857.94 L744.67 1865.8 L761.47 1873.41 L778.28 1881.12 L795.09 1888.81 L811.89 1896.28 L828.7 1903.33 L845.51 1910.14 L862.31 1916.97 L879.12 1923.64 L895.93 1930.26 L912.74 1936.41 L929.54 1942.7 L946.35 1949.03 L963.16 1954.63 L979.96 1959.96 L996.77 1965 L1013.58 1969.77 L1030.38 1974.55 L1030.38 2082.85 L1013.58 2074.63 L996.77 2066.4 L979.96 2057.84 L963.16 2048.97 L946.35 2039.77 L929.54 2030.7 L912.74 2021.59 L895.93 2012.54 L879.12 2002.96 L862.31 1992.63 L845.51 1982.06 L828.7 1971.87 L811.89 1961.32 L795.09 1950.39 L778.28 1939.08 L761.47 1928.19 L744.67 1917.2 L727.86 1906.06 L711.05 1894.26 L694.25 1881.9 L677.44 1869.32 L660.63 1856.27 L643.82 1842.5 L627.02 1822.7 L610.21 1814.93 L593.4 1786.37 L576.6 1767.9 L559.79 1751.23 L542.98 1723.87 L526.17 1688.7 L509.37 1663.93 L492.56 1655.77 L475.75 1639.6 L458.95 1617.94 L442.14 1601.97 L425.33 1590.28 L408.53 1584.58 L391.72 1586.09 L374.91 1583.1 L358.11 1575.81 L341.3 1582.32 L324.49 1571.12 L307.68 1567.93 L290.88 1554.24 L274.07 1554.75 L257.26 1558.66 L240.46 1554.66 L223.65 1548.47 L206.84 1537.48 L190.03 1530.29 L173.23 1535.8 L156.42 1549.5 L139.61 1569.41 L122.81 1579.42 L106 1577.93Z" fill="rgba(183,183,221,0.2)"/>
<path d="M106 1575.34 L122.81 1576.85 L139.61 1566.85 L156.42 1546.96 L173.23 1533.27 L190.03 1527.77 L206.84 1534.98 L223.65 1545.99 L240.46 1552.19 L257.26 1556.2 L274.07 1552.31 L290.88 1551.81 L307.68 1565.52 L324.49 1568.72 L341.3 1579.93 L358.11 1573.44 L374.91 1580.74 L391.72 1583.75 L408.53 1582.26 L425.33 1587.96 L442.14 1599.67 L458.95 1615.7 L475.75 1637.42 L492.56 1653.65 L509.37 1661.88 L526.17 1686.71 L542.98 1721.93 L559.79 1749.36 L576.6 1766.09 L593.4 1784.62 L610.21 1813.24 L627.02 1821.07 L643.82 1822.38 L660.63 1829.15 L677.44 1837.03 L694.25 1845.3 L711.05 1853.92 L727.86 1862.46 L744.67 1870.63 L761.47 1878.56 L778.28 1886.57 L795.09 1894.6 L811.89 1902.39 L828.7 1909.77 L845.51 1916.9 L862.31 1924.08 L879.12 1931.09 L895.93 1937.99 L912.74 1944.42 L929.54 1950.97 L946.35 1957.56 L963.16 1963.5 L979.96 1969.16 L996.77 1974.53 L1013.58 1979.62 L1030.38 1984.73 L1030.38 2072.67 L1013.58 2064.78 L996.77 2056.87 L979.96 2048.64 L963.16 2040.1 L946.35 2031.24 L929.54 2022.43 L912.74 2013.58 L895.93 2004.81 L879.12 1995.51 L862.31 1985.52 L845.51 1975.3 L828.7 1965.43 L811.89 1955.21 L795.09 1944.6 L778.28 1933.63 L761.47 1923.04 L744.67 1912.37 L727.86 1901.54 L711.05 1890.08 L694.25 1878.1 L677.44 1865.97 L660.63 1853.45 L643.82 1840.42 L627.02 1822.53 L610.21 1814.76 L593.4 1786.18 L576.6 1767.71 L559.79 1751.04 L542.98 1723.67 L526.17 1688.49 L509.37 1663.72 L492.56 1655.55 L475.75 1639.38 L458.95 1617.7 L442.14 1601.73 L425.33 1590.04 L408.53 1584.34 L391.72 1585.85 L374.91 1582.86 L358.11 1575.56 L341.3 1582.07 L324.49 1570.88 L307.68 1567.68 L290.88 1553.99 L274.07 1554.49 L257.26 1558.4 L240.46 1554.41 L223.65 1548.21 L206.84 1537.22 L190.03 1530.03 L173.23 1535.53 L156.42 1549.24 L139.61 1569.15 L122.81 1579.15 L106 1577.66Z" fill="rgba(222,222,233,0.2)"/>
<path d="M106 1575.57 L122.81 1577.08 L139.61 1567.08 L156.42 1547.19 L173.23 1533.49 L190.03 1528 L206.84 1535.2 L223.65 1546.21 L240.46 1552.41 L257.26 1556.42 L274.07 1552.52 L290.88 1552.03 L307.68 1565.73 L324.49 1568.94 L341.3 1580.14 L358.11 1573.65 L374.91 1580.95 L391.72 1583.96 L408.53 1582.46 L425.33 1588.17 L442.14 1599.87 L458.95 1615.9 L475.75 1637.62 L492.56 1653.84 L509.37 1662.06 L526.17 1686.88 L542.98 1722.11 L559.79 1749.53 L576.6 1766.25 L593.4 1784.77 L610.21 1813.39 L627.02 1821.21 L643.82 1824.17 L660.63 1831.56 L677.44 1839.9 L694.25 1848.55 L711.05 1857.51 L727.86 1866.34 L744.67 1874.78 L761.47 1882.97 L778.28 1891.24 L795.09 1899.56 L811.89 1907.64 L828.7 1915.3 L845.51 1922.7 L862.31 1930.18 L879.12 1937.49 L895.93 1944.62 L912.74 1951.28 L929.54 1958.07 L946.35 1964.87 L963.16 1971.1 L979.96 1977.05 L996.77 1982.71 L1013.58 1988.08 L1030.38 1993.46 L1030.38 2063.94 L1013.58 2056.32 L996.77 2048.69 L979.96 2040.75 L963.16 2032.5 L946.35 2023.93 L929.54 2015.33 L912.74 2006.72 L895.93 1998.18 L879.12 1989.11 L862.31 1979.42 L845.51 1969.5 L828.7 1959.9 L811.89 1949.96 L795.09 1939.64 L778.28 1928.96 L761.47 1918.63 L744.67 1908.22 L727.86 1897.66 L711.05 1886.49 L694.25 1874.85 L677.44 1863.1 L660.63 1851.04 L643.82 1838.63 L627.02 1822.39 L610.21 1814.61 L593.4 1786.03 L576.6 1767.55 L559.79 1750.87 L542.98 1723.49 L526.17 1688.32 L509.37 1663.54 L492.56 1655.36 L475.75 1639.18 L458.95 1617.5 L442.14 1601.53 L425.33 1589.83 L408.53 1584.14 L391.72 1585.64 L374.91 1582.65 L358.11 1575.35 L341.3 1581.86 L324.49 1570.66 L307.68 1567.47 L290.88 1553.77 L274.07 1554.28 L257.26 1558.18 L240.46 1554.19 L223.65 1547.99 L206.84 1537 L190.03 1529.8 L173.23 1535.31 L156.42 1549.01 L139.61 1568.92 L122.81 1578.92 L106 1577.43Z" fill="rgba(235,235,248,0.2)"/>
<line x1="627.02" x2="627.02" y1="2161.3" y2="1496.4" stroke="#bebebe" stroke-width="1.1" stroke-dasharray="5.265 5.265" stroke-dashoffset="0"/>
<path d="M643.82 1831.4 L660.63 1841.3 L677.44 1851.5 L694.25 1861.7 L711.05 1872 L727.86 1882 L744.67 1891.5 L761.47 1900.8 L778.28 1910.1 L795.09 1919.6 L811.89 1928.8 L828.7 1937.6 L845.51 1946.1 L862.31 1954.8 L879.12 1963.3 L895.93 1971.4 L912.74 1979 L929.54 1986.7 L946.35 1994.4 L963.16 2001.8 L979.96 2008.9 L996.77 2015.7 L1013.58 2022.2 L1030.38 2028.7" fill="none" stroke="#f00" stroke-width="1.4" stroke-linejoin="round"/>
<g fill="#f00"><circle cx="643.82" cy="1831.4" r="3"/><circle cx="660.63" cy="1841.3" r="3"/><circle cx="677.44" cy="1851.5" r="3"/><circle cx="694.25" cy="1861.7" r="3"/><circle cx="711.05" cy="1872" r="3"/><circle cx="727.86" cy="1882" r="3"/><circle cx="744.67" cy="1891.5" r="3"/><circle cx="761.47" cy="1900.8" r="3"/><circle cx="778.28" cy="1910.1" r="3"/><circle cx="795.09" cy="1919.6" r="3"/><circle cx="811.89" cy="1928.8" r="3"/><circle cx="828.7" cy="1937.6" r="3"/><circle cx="845.51" cy="1946.1" r="3"/><circle cx="862.31" cy="1954.8" r="3"/><circle cx="879.12" cy="1963.3" r="3"/><circle cx="895.93" cy="1971.4" r="3"/><circle cx="912.74" cy="1979" r="3"/><circle cx="929.54" cy="1986.7" r="3"/><circle cx="946.35" cy="1994.4" r="3"/><circle cx="963.16" cy="2001.8" r="3"/><circle cx="979.96" cy="2008.9" r="3"/><circle cx="996.77" cy="2015.7" r="3"/><circle cx="1013.58" cy="2022.2" r="3"/><circle cx="1030.38" cy="2028.7" r="3"/></g>
<path d="M59.72 1496.4 V2161.3 H1076.5" fill="none" stroke="#1c1c1c" stroke-width="1.42" stroke-linejoin="round" stroke-linecap="butt"/>
<path d="M59.72 1543.9 h-3.5 M59.72 1730.9 h-3.5 M59.72 1917.9 h-3.5 M59.72 2104.9 h-3.5 M106 2161.3 v3.4 M190.03 2161.3 v3.4 M274.07 2161.3 v3.4 M358.11 2161.3 v3.4 M442.14 2161.3 v3.4 M526.17 2161.3 v3.4 M610.21 2161.3 v3.4 M694.25 2161.3 v3.4 M778.28 2161.3 v3.4 M862.31 2161.3 v3.4 M946.35 2161.3 v3.4 M1030.38 2161.3 v3.4" stroke="#333" stroke-width="1.2" fill="none"/>
<g class="tk" text-anchor="end"><text x="53.52" y="1548.1">35</text><text x="53.52" y="1735.1">30</text><text x="53.52" y="1922.1">25</text><text x="53.52" y="2109.1">20</text></g>
<g class="tk" text-anchor="middle"><text x="106" y="2175.1">1990</text><text x="190.03" y="2175.1">1995</text><text x="274.07" y="2175.1">2000</text><text x="358.11" y="2175.1">2005</text><text x="442.14" y="2175.1">2010</text><text x="526.17" y="2175.1">2015</text><text x="610.21" y="2175.1">2020</text><text x="694.25" y="2175.1">2025</text><text x="778.28" y="2175.1">2030</text><text x="862.31" y="2175.1">2035</text><text x="946.35" y="2175.1">2040</text><text x="1030.38" y="2175.1">2045</text></g>
<text class="ti" text-anchor="middle" x="568.11" y="2190.3">Year</text>
<text class="ti" text-anchor="middle" transform="translate(35.1 1828.85) rotate(-90)">ASR per 100 000</text>
<text class="pl" transform="translate(0.2 1489.9) scale(1 1.045)">C</text>
</g>
</svg>
</body></html>
